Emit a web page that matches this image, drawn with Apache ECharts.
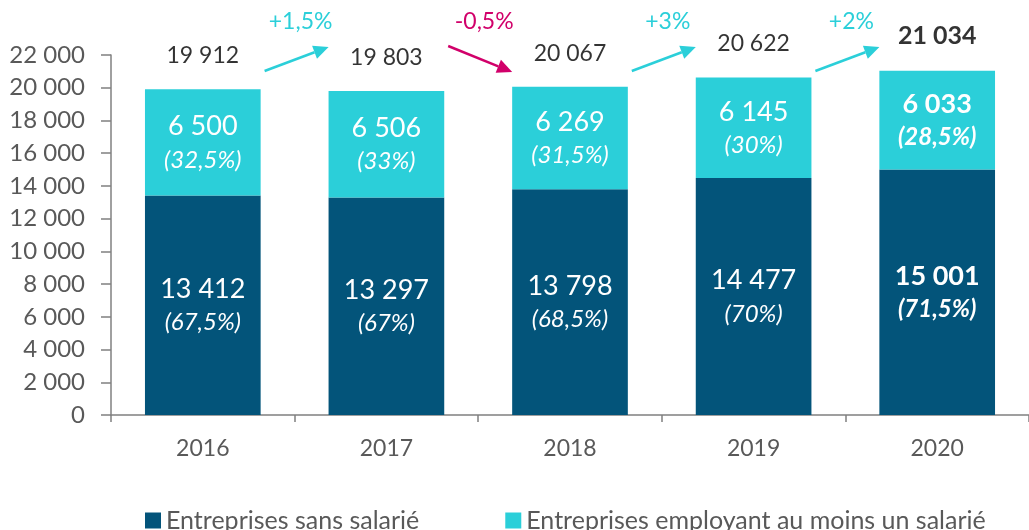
<!DOCTYPE html>
<html>
<head>
<meta charset="utf-8">
<script src="https://cdn.jsdelivr.net/npm/echarts@6/dist/echarts.min.js"></script>
<style>
  html, body { margin: 0; padding: 0; background: #fff; }
  #chart { width: 1029px; height: 530px; }
</style>
</head>
<body>
<div id="chart"></div>
<script>
// données
var years = ['2016', '2017', '2018', '2019', '2020'];
var sansSalarie = [13412, 13297, 13798, 14477, 15001];
var avecSalarie = [6500, 6506, 6269, 6145, 6033];
var totaux = [19912, 19803, 20067, 20622, 21034];
var partSans = ['67,5%', '67%', '68,5%', '70%', '71,5%'];
var partAvec = ['32,5%', '33%', '31,5%', '30%', '28,5%'];
var evolutions = ['+1,5%', '-0,5%', '+3%', '+2%'];
var yTicks = { min: 0, max: 22000, interval: 2000 };

var font = 'Lato, "Noto Sans", sans-serif';
var dark = '#03547a';
var cyan = '#2bcfd9';
var pink = '#d1006a';
var grey = '#595959';

function fmt(v) {
  return String(v).replace(/\B(?=(\d{3})+(?!\d))/g, ' ');
}

function richLabel(parts) {
  return function (p) {
    var last = p.dataIndex === years.length - 1;
    return '{' + (last ? 'vb' : 'v') + '|' + fmt(p.value) + '}\n{' + (last ? 'pb' : 'p') + '|(' + parts[p.dataIndex] + ')}';
  };
}

var rich = {
  v: { color: '#fff', fontSize: 27, fontFamily: font, lineHeight: 35 },
  vb: { color: '#fff', fontSize: 27, fontFamily: font, fontWeight: 'bold', lineHeight: 35 },
  p: { color: '#fff', fontSize: 24, fontFamily: font, fontStyle: 'italic', lineHeight: 32 },
  pb: { color: '#fff', fontSize: 24, fontFamily: font, fontStyle: 'italic', fontWeight: 'bold', lineHeight: 32 }
};

var chart = echarts.init(document.getElementById('chart'));

var option = {
  animation: false,
  textStyle: { fontFamily: font },
  legend: {
    data: ['Entreprises sans salarié', 'Entreprises employant au moins un salarié'],
    top: 503,
    left: 140,
    icon: 'rect',
    itemWidth: 16,
    itemHeight: 16,
    itemGap: 86,
    textStyle: { color: grey, fontSize: 25, fontFamily: font }
  },
  grid: { left: 111, top: 55, width: 925, height: 360 },
  xAxis: {
    type: 'category',
    data: years,
    axisLine: { lineStyle: { color: '#808080', width: 1.5 } },
    axisTick: { show: true, length: 7, lineStyle: { color: '#808080', width: 1.5 } },
    axisLabel: { color: grey, fontSize: 23, margin: 22, fontFamily: font }
  },
  yAxis: {
    type: 'value',
    min: yTicks.min,
    max: yTicks.max,
    interval: yTicks.interval,
    axisLine: { show: true, lineStyle: { color: '#808080', width: 1.5 } },
    axisTick: { show: true, length: 10, lineStyle: { color: '#808080', width: 1.5 } },
    splitLine: { show: false },
    axisLabel: { color: grey, fontSize: 24, margin: 26, fontFamily: font, formatter: fmt }
  },
  series: [
    {
      name: 'Entreprises sans salarié',
      type: 'bar',
      stack: 'total',
      barWidth: '63%',
      data: sansSalarie,
      itemStyle: { color: dark },
      label: { show: true, position: 'inside', formatter: richLabel(partSans), rich: rich }
    },
    {
      name: 'Entreprises employant au moins un salarié',
      type: 'bar',
      stack: 'total',
      data: avecSalarie,
      itemStyle: { color: cyan },
      label: { show: true, position: 'inside', formatter: richLabel(partAvec), rich: rich }
    },
    {
      // totaux au-dessus des barres
      type: 'scatter',
      data: totaux,
      symbolSize: 0,
      silent: true,
      label: {
        show: true,
        position: 'top',
        distance: 22,
        color: '#000',
        fontSize: 23,
        fontFamily: font,
        formatter: function (p) { return fmt(p.value); }
      },
      emphasis: { disabled: true }
    },
    {
      // flèches d'évolution
      type: 'custom',
      clip: false,
      silent: true,
      data: evolutions.map(function (e, i) { return [i, e]; }),
      renderItem: function (params, api) {
        var i = api.value(0);
        var txt = evolutions[i];
        var up = txt.charAt(0) !== '-';
        var col = up ? cyan : pink;
        var a = api.coord([i, yTicks.max]);
        var b = api.coord([i + 1, yTicks.max]);
        var mx = (a[0] + b[0]) / 2 + 2;
        var my = a[1] + 4;
        var dx = 32, dy = up ? -12 : 13;
        var x1 = mx - dx, y1 = my - dy, x2 = mx + dx, y2 = my + dy;
        var ang = Math.atan2(y2 - y1, x2 - x1);
        var hl = 15, hw = 7;
        var bx = x2 - hl * Math.cos(ang), by = y2 - hl * Math.sin(ang);
        var px = -Math.sin(ang) * hw, py = Math.cos(ang) * hw;
        return {
          type: 'group',
          children: [
            { type: 'line', shape: { x1: x1, y1: y1, x2: bx, y2: by }, style: { stroke: col, lineWidth: 2.5 } },
            { type: 'polygon', shape: { points: [[x2, y2], [bx + px, by + py], [bx - px, by - py]] }, style: { fill: col } },
            {
              type: 'text',
              x: mx + 4,
              y: my - 37,
              style: { text: txt, fill: col, font: '23px ' + font, align: 'center', verticalAlign: 'middle' }
            }
          ]
        };
      }
    }
  ]
};

// total 2020 en gras
option.series[2].data = totaux.map(function (v, i) {
  return i === years.length - 1 ? { value: v, label: { fontWeight: 'bold', fontSize: 25 } } : v;
});

chart.setOption(option);
</script>
</body>
</html>
